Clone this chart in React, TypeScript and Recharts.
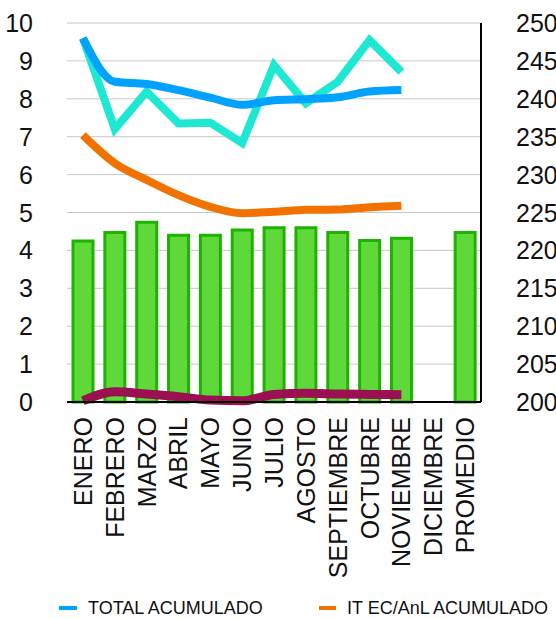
import React from "react";
import { ComposedChart, Bar, Line, XAxis, YAxis, CartesianGrid } from "recharts";

const categories = ["ENERO","FEBRERO","MARZO","ABRIL","MAYO","JUNIO","JULIO","AGOSTO","SEPTIEMBRE","OCTUBRE","NOVIEMBRE","DICIEMBRE","PROMEDIO"];
const barValues = [4.25, 4.47, 4.74, 4.40, 4.40, 4.54, 4.60, 4.60, 4.47, 4.26, 4.32, null, 4.47];
const totalAcumulado = [9.6, 8.45, 8.39, 8.23, 8.03, 7.84, 7.96, 7.99, 8.04, 8.19, 8.23, null, null];
const mensual = [9.6, 7.2, 8.19, 7.35, 7.37, 6.83, 8.89, 7.88, 8.45, 9.55, 8.71, null, null];
const itAcumulado = [7.04, 6.30, 5.86, 5.46, 5.15, 4.98, 5.02, 5.07, 5.08, 5.14, 5.18, null, null];
const otro = [0.03, 0.27, 0.21, 0.14, 0.05, 0.03, 0.2, 0.23, 0.21, 0.2, 0.19, null, null];
const leftTicks = [0, 1, 2, 3, 4, 5, 6, 7, 8, 9, 10];
const rightTicks = [200, 205, 210, 215, 220, 225, 230, 235, 240, 245, 250];

const data = categories.map((name, i) => ({
  name,
  bar: barValues[i],
  total: totalAcumulado[i],
  mensual: mensual[i],
  it: itAcumulado[i],
  otro: otro[i],
  right: null as number | null,
}));

const FONT = "'Liberation Sans', Arial, Helvetica, sans-serif";

const LeftTick = (props: any) => {
  const { x, y, payload } = props;
  return (
    <text x={x - 32} y={y} dy="0.36em" textAnchor="end" fontSize={25} fontFamily={FONT} fill="#111">
      {payload.value}
    </text>
  );
};

const RightTick = (props: any) => {
  const { x, y, payload } = props;
  return (
    <text x={x + 33} y={y} dy="0.36em" textAnchor="start" fontSize={25} fontFamily={FONT} fill="#111">
      {payload.value}
    </text>
  );
};

const XTick = (props: any) => {
  const { x, y, payload } = props;
  const ty = y + 13;
  return (
    <text
      x={x}
      y={ty}
      dy="0.36em"
      textAnchor="end"
      fontSize={25}
      fontFamily={FONT}
      fill="#111"
      transform={`rotate(-90, ${x}, ${ty})`}
    >
      {payload.value}
    </text>
  );
};

export default function App() {
  return (
    <div style={{ position: "absolute", left: 0, top: 0, width: 556, height: 619, overflow: "hidden", background: "#fff" }}>
      <ComposedChart width={556} height={619} data={data} margin={{ top: 23, right: 0, left: 0, bottom: 0 }}>
        <CartesianGrid yAxisId="left" vertical={false} stroke="#c8c8c8" strokeWidth={1} />
        <XAxis
          dataKey="name"
          interval={0}
          height={217}
          tickSize={0}
          tickLine={false}
          axisLine={{ stroke: "#000", strokeWidth: 2 }}
          tick={<XTick />}
        />
        <YAxis
          yAxisId="left"
          type="number"
          domain={[0, 10]}
          ticks={leftTicks}
          width={67}
          axisLine={false}
          tickLine={false}
          tickSize={0}
          tick={<LeftTick />}
        />
        <YAxis
          yAxisId="right"
          type="number"
          orientation="right"
          domain={[200, 250]}
          allowDataOverflow
          ticks={rightTicks}
          width={75}
          axisLine={{ stroke: "#000", strokeWidth: 2 }}
          tickLine={false}
          tickSize={0}
          tick={<RightTick />}
        />
        <Bar yAxisId="left" dataKey="bar" name="PROMEDIO" barSize={20} fill="#5fd93a" stroke="#1db400" strokeWidth={3} isAnimationActive={false} />
        <Line yAxisId="right" dataKey="right" stroke="none" dot={false} legendType="none" isAnimationActive={false} />
        <Line yAxisId="left" type="monotone" dataKey="it" name="IT EC/AnL ACUMULADO" stroke="#f27200" strokeWidth={8} dot={false} isAnimationActive={false} />
        <Line yAxisId="left" type="linear" dataKey="mensual" name="TOTAL MENSUAL" stroke="#1de9d3" strokeWidth={8} dot={false} isAnimationActive={false} />
        <Line yAxisId="left" type="monotone" dataKey="total" name="TOTAL ACUMULADO" stroke="#00a2ff" strokeWidth={8} dot={false} isAnimationActive={false} />
        <Line yAxisId="left" type="monotone" dataKey="otro" name="OTRO" stroke="#9a1050" strokeWidth={9} dot={false} isAnimationActive={false} />
      </ComposedChart>
      <div style={{ position: "absolute", left: 0, top: 597, width: 556, height: 22, fontFamily: FONT, fontSize: 18, color: "#111" }}>
        <div style={{ position: "absolute", left: 59, top: 9, width: 18, height: 4, background: "#00a2ff" }} />
        <div style={{ position: "absolute", left: 88, top: 0, whiteSpace: "nowrap", lineHeight: "22px" }}>TOTAL ACUMULADO</div>
        <div style={{ position: "absolute", left: 319, top: 9, width: 17, height: 4, background: "#f27200" }} />
        <div style={{ position: "absolute", left: 347, top: 0, whiteSpace: "nowrap", lineHeight: "22px" }}>IT EC/AnL ACUMULADO</div>
      </div>
    </div>
  );
}
